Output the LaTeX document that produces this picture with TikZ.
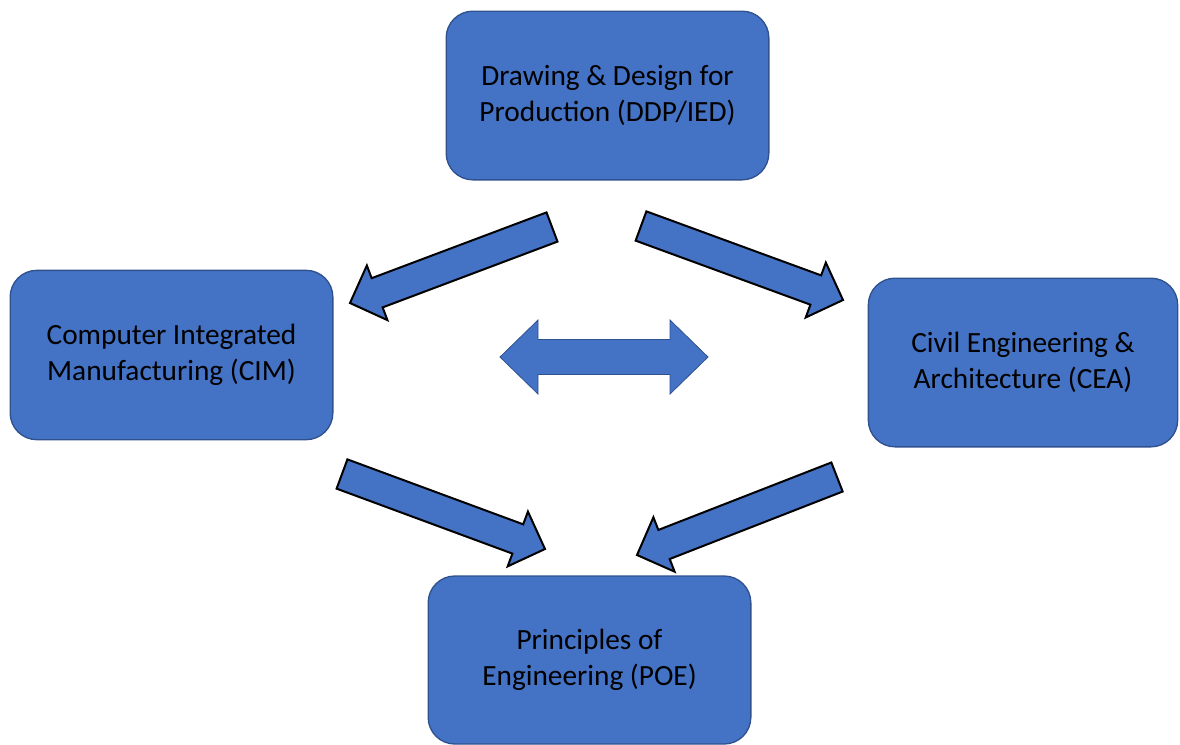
\documentclass[tikz,border=0pt]{standalone}
\usepackage{fontspec}
\setmainfont{Carlito}
\usepackage{tikz}
\usetikzlibrary{positioning, arrows.meta, calc}

\definecolor{boxblue}{RGB}{68,114,196}
\definecolor{boxline}{RGB}{47,82,143}

\tikzset{
	course/.style={draw=boxline, line width=1pt, fill=boxblue, rounded corners=20pt, align=center, text=black, font=\fontsize{22}{27}\selectfont},
	blockarr/.style={draw=black, line width=1.5pt, fill=boxblue, line join=miter},
	midarr/.style={draw=boxline, line width=0.6pt, fill=boxblue},
}

% block arrow from tail (#1) to tip (#2)
\newcommand{\blockarrow}[2]{%
	\coordinate (hb) at ($(#2)!21.75pt!(#1)$);
	\draw[blockarr] ($(#1)!11.7pt!90:(#2)$) -- ($(hb)!11.7pt!90:(#2)$) -- ($(hb)!21.9pt!90:(#2)$) -- (#2) -- ($(hb)!21.9pt!-90:(#2)$) -- ($(hb)!11.7pt!-90:(#2)$) -- ($(#1)!11.7pt!-90:(#2)$) -- cycle ;
}

\begin{document}
\begin{tikzpicture}[x=0.75pt,y=0.75pt,yscale=-1,xscale=1]
	\useasboundingbox (0,0) rectangle (1180,744);
	
	%Shape: Rounded Rect [id:ddp]
	\node[course, minimum width=242pt, minimum height=126.5pt] (ddp) at (607.5,95.5) {Drawing \& Design for\\Production (DDP/IED)};
	%Shape: Rounded Rect [id:cim]
	\node[course, minimum width=242pt, minimum height=127pt] (cim) at (171.5,355) {Computer Integrated\\Manufacturing (CIM)};
	%Shape: Rounded Rect [id:cea]
	\node[course, minimum width=232pt, minimum height=126.5pt] (cea) at (1023,362.5) {Civil Engineering \&\\Architecture (CEA)};
	%Shape: Rounded Rect [id:poe]
	\node[course, minimum width=242pt, minimum height=126pt] (poe) at (589.5,660) {Principles of\\Engineering (POE)};
	
	%Shape: Left-Right Arrow
	\draw[midarr] (500,357) -- (538,320) -- (538,339.5) -- (670,339.5) -- (670,320) -- (708,357) -- (670,394) -- (670,374.5) -- (538,374.5) -- (538,394) -- cycle ;
	
	%Block Arrows
	\coordinate (t1) at (552,227); \coordinate (p1) at (350,303);
	\coordinate (t2) at (641,226); \coordinate (p2) at (843,300);
	\coordinate (t3) at (342,474); \coordinate (p3) at (545,549);
	\coordinate (t4) at (837,477); \coordinate (p4) at (637,555);
	\blockarrow{t1}{p1}
	\blockarrow{t2}{p2}
	\blockarrow{t3}{p3}
	\blockarrow{t4}{p4}
\end{tikzpicture}
\end{document}
